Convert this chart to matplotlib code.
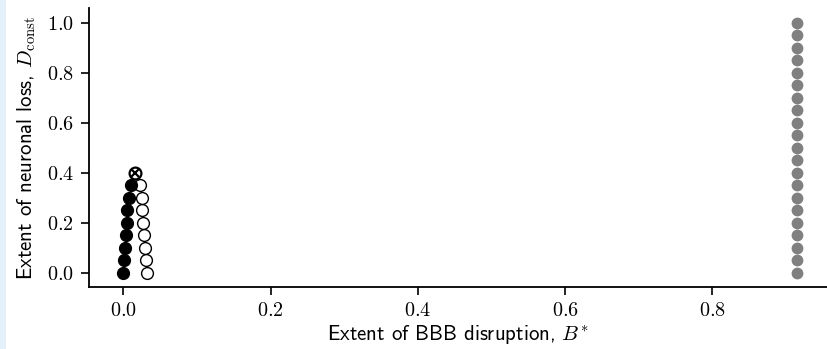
import matplotlib
matplotlib.use("Agg")
import matplotlib.pyplot as plt
import numpy as np
from matplotlib.patches import Rectangle

plt.rcParams['mathtext.fontset'] = 'cm'
plt.rcParams['font.family'] = ['cmss10', 'DejaVu Sans']
plt.rcParams['axes.unicode_minus'] = False

# data
y_low = [0.0, 0.05, 0.10, 0.15, 0.20, 0.25, 0.30, 0.35]
x_filled = [0.0, 0.0015, 0.0025, 0.0035, 0.0045, 0.0057, 0.0072, 0.0098]
x_hollow = [0.0325, 0.0305, 0.029, 0.028, 0.027, 0.026, 0.025, 0.023]
x_cross = [0.0165]
y_cross = [0.40]
y_gray = [0.0, 0.05, 0.10, 0.15, 0.20, 0.25, 0.30, 0.35, 0.40, 0.45, 0.50,
          0.55, 0.60, 0.65, 0.70, 0.75, 0.80, 0.85, 0.90, 0.95, 1.0]
x_gray = [0.9155] * len(y_gray)

xticks = [0.0, 0.2, 0.4, 0.6, 0.8]
xticklabels = ['$0.0$', '$0.2$', '$0.4$', '$0.6$', '$0.8$']
yticks = [0.0, 0.2, 0.4, 0.6, 0.8, 1.0]
yticklabels = ['$0.0$', '$0.2$', '$0.4$', '$0.6$', '$0.8$', '$1.0$']

fig = plt.figure(figsize=(8.27, 3.49), dpi=100)
fig.patches.append(Rectangle((0, 0), 6/827, 1, transform=fig.transFigure,
                             facecolor='#e4f1fb', edgecolor='none', zorder=-1))
ax = fig.add_axes([0.1076, 0.1785, 0.8924, 0.7985])

ms = 8.5
ax.plot(x_gray, y_gray, 'o', color='#808080', ms=ms, mec='none', clip_on=False)
ax.plot(x_hollow, y_low, 'o', mfc='white', mec='black', mew=1.0, ms=ms, clip_on=False)
ax.plot(x_filled, y_low, 'o', color='black', ms=ms, clip_on=False)
ax.plot(x_cross, y_cross, 'o', mfc='white', mec='black', mew=1.6, ms=ms, clip_on=False)
ax.plot(x_cross, y_cross, 'x', color='black', mew=1.6, ms=5.5, clip_on=False)

ax.set_xlim(-0.0466, 0.956)
ax.set_ylim(-0.055, 1.058)
ax.set_xticks(xticks)
ax.set_xticklabels(xticklabels)
ax.set_yticks(yticks)
ax.set_yticklabels(yticklabels)
ax.tick_params(axis='both', labelsize=14.5, length=6, width=1.2, pad=5)

ax.spines['top'].set_visible(False)
ax.spines['right'].set_visible(False)
ax.spines['left'].set_linewidth(1.3)
ax.spines['bottom'].set_linewidth(1.3)

ax.set_xlabel(r'Extent of BBB disruption, $B^{*}$', fontsize=15, labelpad=2)
ax.set_ylabel(r'Extent of neuronal loss, $D_{\rm const}$', fontsize=15, labelpad=6)

plt.savefig('out.png', dpi=100)
